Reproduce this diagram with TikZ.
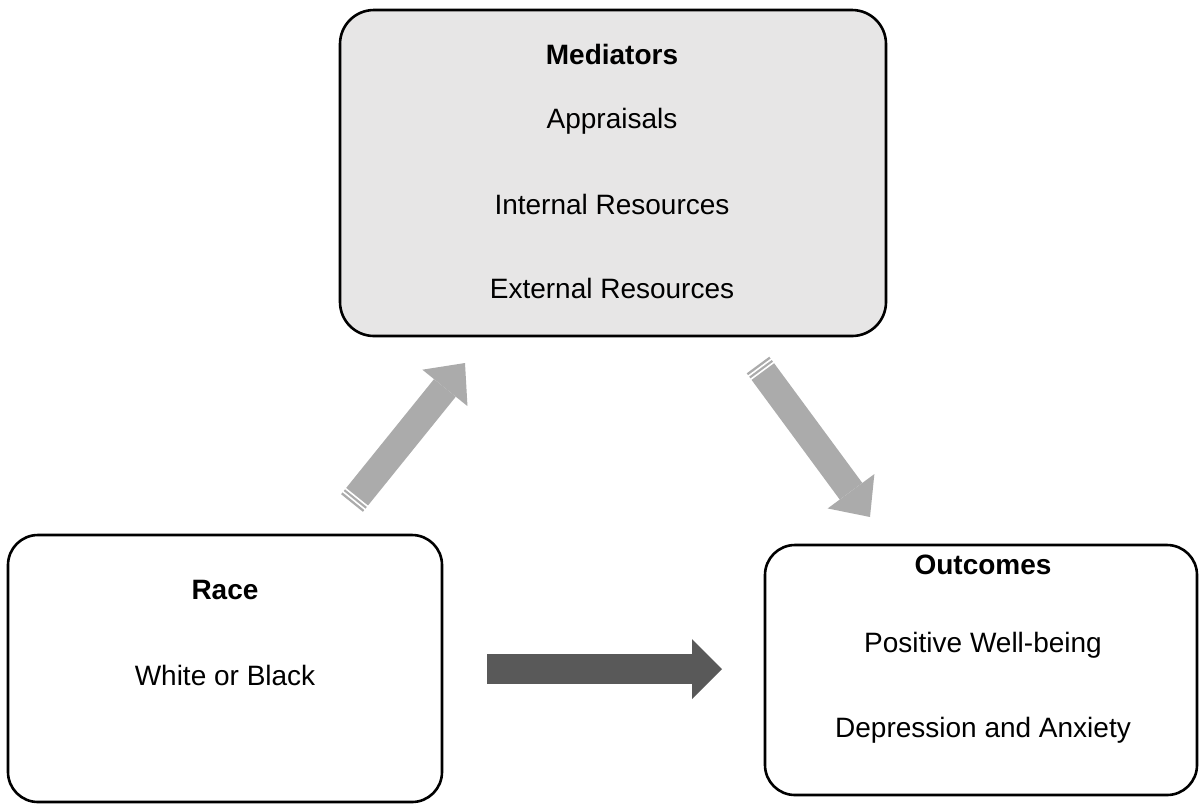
\documentclass[tikz,border=0pt]{standalone}
\usepackage{fontspec}
\setmainfont{Liberation Sans}
\usetikzlibrary{arrows.meta,calc}
\definecolor{medfill}{HTML}{E7E6E6}
\definecolor{lightarrow}{HTML}{ABABAB}
\definecolor{darkarrow}{HTML}{595959}
\begin{document}
\begin{tikzpicture}[x=0.5pt,y=-0.5pt,
  box/.style={draw=black, line width=1.3pt, rounded corners=#1, inner sep=0pt, outer sep=0pt},
  lbl/.style={font=\fontsize{14}{17}\selectfont, inner sep=0pt},
  hdr/.style={font=\fontsize{14}{17}\selectfont\bfseries, inner sep=0pt},
  grayarrow/.style={draw=lightarrow, line width=14pt,
    -{Triangle[length=16pt,width=29pt,line width=0pt]}},
  darkfat/.style={draw=darkarrow, line width=15pt,
    -{Triangle[length=15pt,width=30pt,line width=0pt]}},
  stripe/.style={draw=white, line width=0.8pt}]
\useasboundingbox (0,0) rectangle (1199,805);

% boxes
\node[box=17pt, fill=medfill, minimum width=273pt, minimum height=163pt] (med) at (613,173) {};
\node[box=15pt, fill=white, minimum width=217pt, minimum height=133.5pt] (race) at (225,668.5) {};
\node[box=15pt, fill=white, minimum width=216pt, minimum height=125pt] (out) at (981,670) {};

% texts
\node[hdr] (medT) at (612,54) {Mediators};
\node[lbl] (app) at (612,121) {Appraisals};
\node[lbl] (intr) at (612,204) {Internal Resources};
\node[lbl] (extr) at (612,288) {External Resources};
\node[hdr] (raceT) at (225,590) {Race};
\node[lbl] (wb) at (225,675) {White or Black};
\node[hdr] (outT) at (983,565) {Outcomes};
\node[lbl] (pw) at (983,645) {Positive Well-being};
\node[lbl] (da) at (983,730) {Depression and Anxiety};

% arrow end points
\coordinate (upT) at (352,503);
\coordinate (upH) at (465,363);
\coordinate (dnT) at (758,365);
\coordinate (dnH) at (870,517);
\coordinate (hzT) at (487,669);
\coordinate (hzH) at (722,669);

% arrows
\draw[grayarrow] (upT) -- (upH);
\draw[grayarrow] (dnT) -- (dnH);
\draw[darkfat] (hzT) -- (hzH);

% striped tails
\foreach \a/\b in {upT/upH, dnT/dnH}{
  \foreach \d in {1.6pt,3.6pt}{
    \coordinate (s) at ($(\a)!\d!(\b)$);
    \draw[stripe] ($(s)!7.6pt!90:(\b)$) -- ($(s)!7.6pt!-90:(\b)$);
  }
}
\end{tikzpicture}
\end{document}
